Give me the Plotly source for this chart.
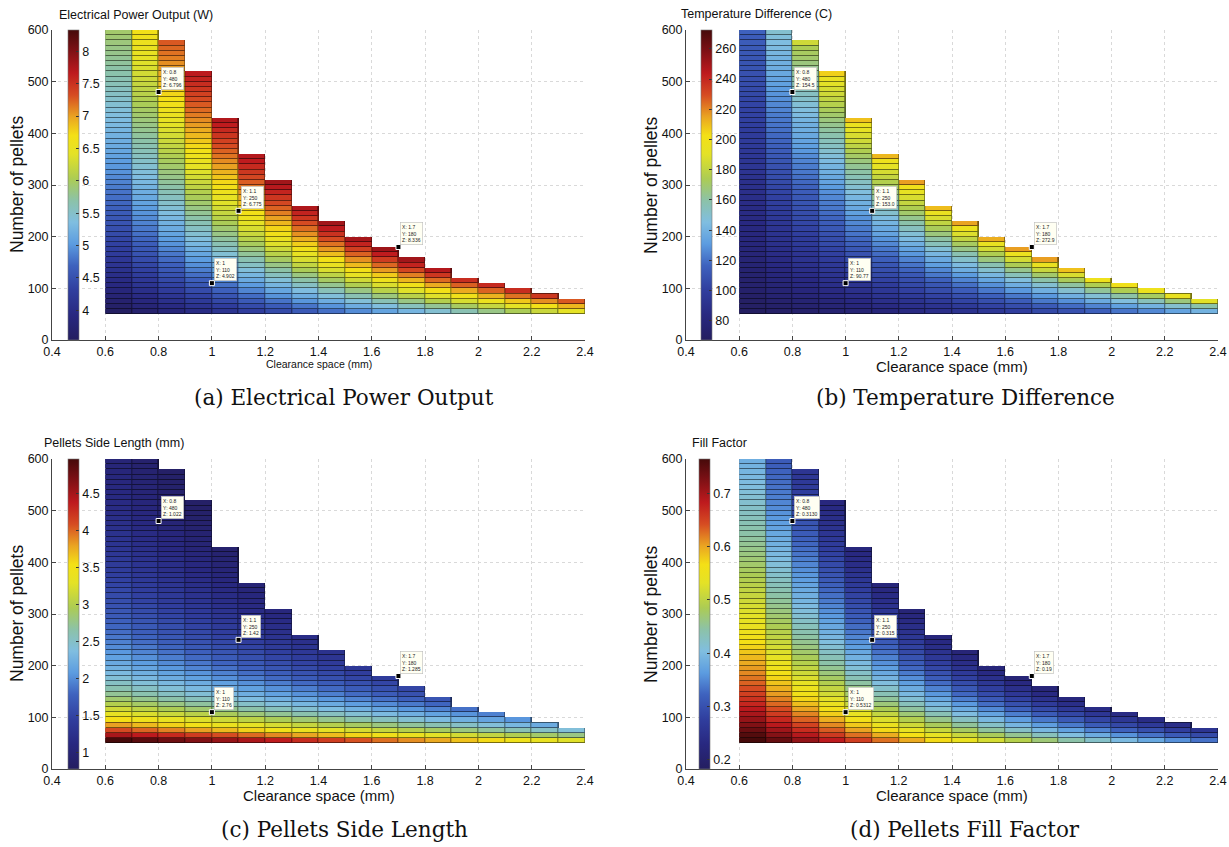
import plotly.graph_objects as go

# ---------------- data ----------------
clearance_edges = [0.6, 0.7, 0.8, 0.9, 1.0, 1.1, 1.2, 1.3, 1.4, 1.5, 1.6, 1.7, 1.8, 1.9, 2.0, 2.1, 2.2, 2.3, 2.4]
pellet_edges = [50, 60, 70, 80, 90, 100, 110, 120, 130, 140, 150, 160, 170, 180, 190, 200, 210, 220, 230, 240,
                250, 260, 270, 280, 290, 300, 310, 320, 330, 340, 350, 360, 370, 380, 390, 400, 410, 420, 430, 440,
                450, 460, 470, 480, 490, 500, 510, 520, 530, 540, 550, 560, 570, 580, 590, 600]

# each inner list = one clearance column, values from N=50 upward (10 pellets per row)
power_w = [
    [3.56,3.64,3.71,3.78,3.85,3.92,3.97,4.03,4.09,4.14,4.19,4.25,4.30,4.34,4.39,4.44,4.49,4.54,4.57,4.62,4.67,4.71,4.76,4.79,4.84,4.88,4.92,4.97,5.00,5.03,5.08,5.12,5.16,5.19,5.23,5.27,5.31,5.34,5.38,5.41,5.45,5.49,5.53,5.56,5.60,5.63,5.67,5.70,5.74,5.77,5.81,5.83,5.87,5.91,5.94],
    [3.70,3.80,3.89,3.96,4.04,4.13,4.19,4.27,4.33,4.39,4.46,4.53,4.58,4.64,4.71,4.77,4.82,4.88,4.93,4.98,5.03,5.09,5.15,5.19,5.24,5.30,5.35,5.40,5.45,5.50,5.55,5.60,5.64,5.69,5.74,5.79,5.83,5.88,5.93,5.97,6.02,6.06,6.11,6.15,6.20,6.25,6.29,6.34,6.38,6.43,6.48,6.51,6.55,6.61,6.66],
    [3.85,3.95,4.06,4.15,4.25,4.34,4.42,4.51,4.58,4.66,4.74,4.81,4.89,4.97,5.03,5.10,5.17,5.23,5.30,5.37,5.43,5.49,5.56,5.62,5.69,5.75,5.82,5.87,5.94,5.99,6.05,6.12,6.18,6.24,6.30,6.35,6.41,6.47,6.53,6.58,6.64,6.70,6.75,6.81,6.87,6.92,6.97,7.02,7.07,7.13,7.18,7.22,7.28],
    [3.99,4.12,4.23,4.34,4.45,4.56,4.66,4.76,4.85,4.95,5.03,5.12,5.20,5.29,5.38,5.45,5.54,5.62,5.69,5.77,5.84,5.93,6.01,6.08,6.16,6.24,6.30,6.38,6.45,6.52,6.60,6.67,6.74,6.82,6.89,6.95,7.02,7.08,7.14,7.21,7.27,7.34,7.40,7.47,7.53,7.60,7.67],
    [4.13,4.28,4.41,4.55,4.67,4.78,4.90,5.00,5.12,5.22,5.33,5.43,5.54,5.63,5.73,5.83,5.92,6.02,6.11,6.20,6.29,6.39,6.47,6.57,6.66,6.74,6.83,6.92,7.00,7.08,7.17,7.24,7.33,7.40,7.48,7.56,7.65,7.73],
    [4.29,4.45,4.60,4.75,4.89,5.02,5.16,5.28,5.40,5.53,5.64,5.76,5.88,6.00,6.11,6.23,6.33,6.44,6.55,6.67,6.76,6.87,6.97,7.07,7.17,7.26,7.36,7.46,7.55,7.65,7.71],
    [4.44,4.62,4.79,4.97,5.12,5.27,5.41,5.56,5.70,5.83,5.98,6.12,6.25,6.38,6.51,6.64,6.76,6.90,7.00,7.13,7.24,7.36,7.47,7.59,7.70,7.82],
    [4.60,4.80,4.99,5.18,5.35,5.53,5.69,5.85,6.02,6.18,6.33,6.48,6.63,6.79,6.93,7.06,7.20,7.33,7.47,7.60,7.74],
    [4.77,4.98,5.19,5.40,5.60,5.79,5.97,6.15,6.34,6.51,6.69,6.87,7.03,7.18,7.34,7.50,7.66,7.82],
    [4.93,5.18,5.41,5.63,5.84,6.06,6.27,6.47,6.67,6.88,7.06,7.24,7.42,7.60,7.79],
    [5.10,5.37,5.62,5.87,6.12,6.35,6.57,6.80,7.02,7.22,7.43,7.65,7.84],
    [5.27,5.57,5.84,6.12,6.39,6.65,6.90,7.13,7.37,7.60,7.82],
    [5.45,5.77,6.08,6.38,6.67,6.95,7.21,7.47,7.72],
    [5.63,5.98,6.32,6.63,6.96,7.25,7.53],
    [5.83,6.20,6.56,6.92,7.24,7.56],
    [6.02,6.43,6.82,7.18,7.53],
    [6.23,6.66,7.07,7.46],
    [6.43,6.90,7.28],
]

temp_diff_c = [
    [68,70,70,71,73,74,74,75,76,77,78,79,80,81,82,82,83,84,85,86,86,87,88,89,90,90,91,93,94,94,95,96,97,98,98,99,100,101,102,102,103,104,105,106,107,108,109,110,110,111,112,113,114,114,116],
    [71,72,74,76,77,78,80,81,82,84,85,87,88,90,91,92,93,94,96,97,99,100,101,103,104,106,107,108,109,111,112,114,115,117,118,120,121,122,123,125,126,128,129,131,133,134,136,138,139,140,142,144,145,147,150],
    [73,75,77,79,81,83,84,86,88,90,92,93,95,97,98,100,102,104,106,107,109,110,112,114,116,118,120,122,123,125,127,130,132,134,136,138,139,141,144,146,148,151,153,155,157,160,162,164,167,170,172,174,184],
    [76,78,80,83,85,88,90,92,94,96,98,101,103,106,107,109,112,114,117,119,122,123,126,128,131,134,136,139,141,144,147,150,153,155,158,161,164,167,170,173,177,180,184,186,190,194,206],
    [78,81,84,87,90,92,95,98,101,104,107,109,112,115,118,121,123,126,129,133,136,139,142,146,149,153,156,160,163,167,171,175,179,184,187,192,196,209],
    [81,85,89,92,95,98,102,105,108,111,115,119,122,126,129,134,137,141,145,150,153,157,162,167,171,176,181,186,191,197,211],
    [85,89,92,97,101,105,108,112,117,121,125,130,134,139,144,148,154,159,164,170,175,181,187,193,200,216],
    [89,92,97,102,107,111,116,122,126,132,137,142,148,155,160,167,173,180,187,194,210],
    [92,97,103,108,114,120,125,131,138,144,151,157,165,172,180,188,197,215],
    [96,102,108,115,122,128,135,142,150,157,167,175,185,194,213],
    [100,107,114,122,130,138,146,155,164,174,185,196,216],
    [105,113,122,130,139,149,159,170,182,194,216],
    [109,119,128,139,150,161,173,187,209],
    [115,125,137,148,162,175,198],
    [121,133,146,160,175,200],
    [126,140,155,172,198],
    [134,150,167,194],
    [140,159,190],
]

side_length_mm = [
    [4.97,4.49,4.11,3.81,3.55,3.34,3.16,3.00,2.86,2.73,2.62,2.52,2.42,2.34,2.26,2.19,2.12,2.06,2.00,1.94,1.89,1.84,1.80,1.76,1.71,1.68,1.64,1.60,1.57,1.54,1.51,1.48,1.45,1.42,1.40,1.37,1.35,1.32,1.30,1.28,1.26,1.24,1.22,1.20,1.18,1.16,1.15,1.13,1.11,1.10,1.08,1.07,1.05,1.04,1.02],
    [4.87,4.39,4.01,3.71,3.45,3.24,3.06,2.90,2.76,2.63,2.52,2.42,2.32,2.24,2.16,2.09,2.02,1.96,1.90,1.84,1.79,1.74,1.70,1.66,1.61,1.58,1.54,1.50,1.47,1.44,1.41,1.38,1.35,1.32,1.30,1.27,1.25,1.22,1.20,1.18,1.16,1.14,1.12,1.10,1.08,1.06,1.05,1.03,1.01,1.00,0.98,0.97,0.95,0.94,0.92],
    [4.77,4.29,3.91,3.61,3.35,3.14,2.96,2.80,2.66,2.53,2.42,2.32,2.22,2.14,2.06,1.99,1.92,1.86,1.80,1.74,1.69,1.64,1.60,1.56,1.51,1.48,1.44,1.40,1.37,1.34,1.31,1.28,1.25,1.22,1.20,1.17,1.15,1.12,1.10,1.08,1.06,1.04,1.02,1.00,0.98,0.96,0.95,0.93,0.91,0.90,0.88,0.87,0.85],
    [4.67,4.19,3.81,3.51,3.25,3.04,2.86,2.70,2.56,2.43,2.32,2.22,2.12,2.04,1.96,1.89,1.82,1.76,1.70,1.64,1.59,1.54,1.50,1.46,1.41,1.38,1.34,1.30,1.27,1.24,1.21,1.18,1.15,1.12,1.10,1.07,1.05,1.02,1.00,0.98,0.96,0.94,0.92,0.90,0.88,0.86,0.85],
    [4.57,4.09,3.71,3.41,3.15,2.94,2.76,2.60,2.46,2.33,2.22,2.12,2.02,1.94,1.86,1.79,1.72,1.66,1.60,1.54,1.49,1.44,1.40,1.36,1.31,1.28,1.24,1.20,1.17,1.14,1.11,1.08,1.05,1.02,1.00,0.97,0.95,0.92],
    [4.47,3.99,3.61,3.31,3.05,2.84,2.66,2.50,2.36,2.23,2.12,2.02,1.92,1.84,1.76,1.69,1.62,1.56,1.50,1.44,1.39,1.34,1.30,1.26,1.21,1.18,1.14,1.10,1.07,1.04,1.01],
    [4.37,3.89,3.51,3.21,2.95,2.74,2.56,2.40,2.26,2.13,2.02,1.92,1.82,1.74,1.66,1.59,1.52,1.46,1.40,1.34,1.29,1.24,1.20,1.16,1.11,1.08],
    [4.27,3.79,3.41,3.11,2.85,2.64,2.46,2.30,2.16,2.03,1.92,1.82,1.72,1.64,1.56,1.49,1.42,1.36,1.30,1.24,1.19],
    [4.17,3.69,3.31,3.01,2.75,2.54,2.36,2.20,2.06,1.93,1.82,1.72,1.62,1.54,1.46,1.39,1.32,1.26],
    [4.07,3.59,3.21,2.91,2.65,2.44,2.26,2.10,1.96,1.83,1.72,1.62,1.52,1.44,1.36],
    [3.97,3.49,3.11,2.81,2.55,2.34,2.16,2.00,1.86,1.73,1.62,1.52,1.42],
    [3.87,3.39,3.01,2.71,2.45,2.24,2.06,1.90,1.76,1.63,1.52],
    [3.77,3.29,2.91,2.61,2.35,2.14,1.96,1.80,1.66],
    [3.67,3.19,2.81,2.51,2.25,2.04,1.86],
    [3.57,3.09,2.71,2.41,2.15,1.94],
    [3.47,2.99,2.61,2.31,2.05],
    [3.37,2.89,2.51,2.21],
    [3.27,2.79,2.41],
]

fill_factor = [
    [.772,.755,.739,.724,.710,.697,.685,.673,.662,.652,.642,.632,.623,.614,.605,.597,.589,.581,.574,.566,.559,.552,.545,.539,.532,.526,.520,.513,.507,.502,.496,.490,.485,.480,.474,.469,.464,.459,.454,.449,.444,.440,.435,.431,.426,.422,.417,.413,.409,.405,.401,.397,.393,.389,.385],
    [.742,.721,.703,.686,.671,.656,.642,.629,.617,.605,.594,.583,.573,.563,.553,.544,.535,.526,.518,.509,.502,.494,.486,.479,.472,.465,.458,.451,.445,.438,.432,.426,.420,.414,.409,.403,.398,.392,.387,.382,.377,.372,.367,.362,.357,.352,.348,.343,.339,.334,.330,.326,.322,.317,.313],
    [.711,.689,.668,.650,.632,.616,.601,.586,.573,.560,.548,.536,.524,.513,.503,.493,.483,.474,.465,.456,.447,.439,.431,.423,.415,.408,.400,.393,.386,.380,.373,.366,.360,.354,.348,.342,.336,.331,.325,.320,.314,.309,.304,.299,.294,.289,.284,.280,.275,.270,.266,.262,.257],
    [.682,.657,.635,.614,.595,.577,.561,.545,.530,.516,.503,.490,.478,.466,.455,.444,.434,.424,.414,.405,.396,.387,.378,.370,.362,.354,.347,.339,.332,.325,.318,.311,.305,.298,.292,.286,.280,.274,.269,.263,.258,.252,.247,.242,.237,.232,.227],
    [.653,.626,.602,.580,.559,.540,.522,.506,.490,.475,.461,.447,.434,.422,.410,.399,.388,.377,.367,.357,.348,.338,.330,.321,.313,.305,.297,.289,.282,.274,.267,.261,.254,.247,.241,.235,.229,.223],
    [.625,.596,.570,.546,.524,.504,.485,.467,.451,.435,.420,.406,.392,.379,.367,.355,.344,.333,.322,.312,.303,.293,.284,.275,.267,.259,.251,.243,.236,.228,.221],
    [.597,.566,.539,.513,.490,.469,.449,.431,.413,.397,.381,.366,.353,.339,.326,.314,.303,.291,.281,.270,.261,.251,.242,.233,.225,.216],
    [.570,.538,.508,.482,.458,.435,.415,.395,.377,.360,.344,.329,.315,.301,.288,.276,.264,.253,.242,.232,.222],
    [.544,.509,.479,.451,.426,.403,.382,.362,.343,.326,.309,.294,.279,.266,.252,.240,.228,.217],
    [.518,.482,.450,.422,.396,.372,.350,.330,.311,.293,.276,.261,.246,.232,.219],
    [.493,.456,.423,.393,.366,.342,.320,.299,.280,.262,.245,.229,.215],
    [.468,.430,.396,.366,.338,.313,.291,.270,.250,.232,.216],
    [.444,.405,.370,.339,.311,.286,.263,.242,.223],
    [.421,.381,.345,.314,.285,.260,.237],
    [.399,.357,.321,.289,.261,.235],
    [.377,.334,.298,.266,.237],
    [.355,.312,.275,.243],
    [.334,.291,.254],
]

tip_x = [0.8, 1.1, 1.7, 1.0]
tip_y = [480, 250, 180, 110]
tip_x_text = ["0.8", "1.1", "1.7", "1"]
tip_z_power = ["6.796", "6.775", "8.336", "4.902"]
tip_z_temp = ["154.5", "153.0", "272.9", "90.77"]
tip_z_side = ["1.022", "1.42", "1.285", "2.76"]
tip_z_fill = ["0.3130", "0.315", "0.19", "0.5312"]

power_ticks = [4, 4.5, 5, 5.5, 6, 6.5, 7, 7.5, 8]
temp_ticks = [80, 100, 120, 140, 160, 180, 200, 220, 240, 260]
side_ticks = [1, 1.5, 2, 2.5, 3, 3.5, 4, 4.5]
fill_ticks = [0.2, 0.3, 0.4, 0.5, 0.6, 0.7]

# ---------------- styling ----------------
W, H = 1229, 847
stops = [
    (0.00, (36, 30, 96)), (0.08, (40, 40, 128)), (0.16, (48, 62, 158)), (0.24, (62, 98, 190)),
    (0.31, (92, 156, 224)), (0.38, (128, 190, 224)), (0.45, (140, 194, 168)), (0.52, (172, 204, 84)),
    (0.60, (228, 226, 38)), (0.66, (244, 224, 22)), (0.72, (234, 164, 34)), (0.79, (214, 76, 34)),
    (0.86, (190, 26, 30)), (0.94, (120, 16, 20)), (1.00, (70, 10, 10)),
]
cscale = [[p, "rgb(%d,%d,%d)" % c] for p, c in stops]
cscale_dark = [[p, "rgb(%d,%d,%d)" % tuple(int(v * 0.5) for v in c)] for p, c in stops]

SANS = "Liberation Sans, Arial, sans-serif"
SERIF = "DejaVu Serif, serif"


def px_x(px):
    return px / W


def px_y(py):
    return 1 - py / H


panels = [
    dict(vals=power_w, zr=(3.54, 8.33), ticks=power_ticks, tips=tip_z_power,
         xd=(52, 585), yd=(30, 340), cbx=68, title="Electrical Power Output (W)", tx=57, ty=15,
         xlab_size=10.5, xlab_dy=24, cap="(a) Electrical Power Output", cap_dy=57, cap_x=344),
    dict(vals=temp_diff_c, zr=(67.3, 272.5), ticks=temp_ticks, tips=tip_z_temp,
         xd=(686, 1218), yd=(30, 340), cbx=701, title="Temperature Difference (C)", tx=679, ty=14,
         xlab_size=15, xlab_dy=26, cap="(b) Temperature Difference", cap_dy=57, cap_x=965),
    dict(vals=side_length_mm, zr=(0.78, 4.97), ticks=side_ticks, tips=tip_z_side,
         xd=(52, 585), yd=(459, 769), cbx=68, title="Pellets Side Length (mm)", tx=42, ty=443,
         xlab_size=15, xlab_dy=26, cap="(c) Pellets Side Length", cap_dy=60, cap_x=344),
    dict(vals=fill_factor, zr=(0.183, 0.764), ticks=fill_ticks, tips=tip_z_fill,
         xd=(686, 1218), yd=(459, 769), cbx=699, title="Fill Factor", tx=690, ty=443,
         xlab_size=15, xlab_dy=26, cap="(d) Pellets Fill Factor", cap_dy=60, cap_x=965),
]

fig = go.Figure()
annotations = []
layout_axes = {}
for i, p in enumerate(panels):
    k = "" if i == 0 else str(i + 1)
    xa, ya = "x" + k, "y" + k
    nrows = len(pellet_edges) - 1
    z = [[col[r] if r < len(col) else None for col in p["vals"]] for r in range(nrows)]
    fig.add_trace(go.Heatmap(x=clearance_edges, y=pellet_edges, z=z, colorscale=cscale_dark,
                             zmin=p["zr"][0], zmax=p["zr"][1], showscale=False, hoverinfo="skip",
                             xaxis=xa, yaxis=ya))
    fig.add_trace(go.Heatmap(
        x=clearance_edges, y=pellet_edges, z=z, colorscale=cscale, zmin=p["zr"][0], zmax=p["zr"][1],
        xgap=1, ygap=1, xaxis=xa, yaxis=ya,
        colorbar=dict(x=px_x(p["cbx"]), xanchor="left", xref="paper", yref="paper",
                      y=(px_y(p["yd"][0]) + px_y(p["yd"][1])) / 2, yanchor="middle",
                      len=(p["yd"][1] - p["yd"][0]) / H, lenmode="fraction",
                      thickness=11, thicknessmode="pixels", outlinewidth=0.6, outlinecolor="#777",
                      tickvals=p["ticks"], ticks="inside", ticklen=3, tickcolor="#333",
                      tickfont=dict(family=SANS, size=12.5, color="#111"),
                      xpad=0, ypad=0)))
    fig.add_trace(go.Scatter(x=tip_x, y=tip_y, mode="markers", xaxis=xa, yaxis=ya, showlegend=False,
                             hoverinfo="skip",
                             marker=dict(symbol="square", size=5, color="black",
                                         line=dict(color="white", width=1))))
    for tx_, ty_, xt, zt in zip(tip_x, tip_y, tip_x_text, p["tips"]):
        annotations.append(dict(x=tx_, y=ty_, xref=xa, yref=ya, showarrow=False,
                                text="X: %s<br>Y: %d<br>Z: %s" % (xt, ty_, zt),
                                xanchor="left", yanchor="bottom", xshift=2, yshift=2, align="left",
                                font=dict(family=SANS, size=5, color="#222"),
                                bgcolor="#fffff2", bordercolor="#bbbbbb", borderwidth=0.6, borderpad=1.5))
    axis_common = dict(showline=True, linecolor="#444", linewidth=1, ticks="inside", ticklen=4,
                       tickcolor="#444", showgrid=True, gridcolor="#d9d9d9", griddash="dot", gridwidth=1,
                       zeroline=False, tickfont=dict(family=SANS, size=12.5, color="#111"))
    layout_axes["xaxis" + k] = dict(axis_common, domain=[px_x(p["xd"][0]), px_x(p["xd"][1])], range=[0.4, 2.4],
                                    tickvals=[0.4, 0.6, 0.8, 1.0, 1.2, 1.4, 1.6, 1.8, 2.0, 2.2, 2.4],
                                    ticktext=["0.4", "0.6", "0.8", "1", "1.2", "1.4", "1.6", "1.8", "2", "2.2", "2.4"],
                                    anchor=ya)
    layout_axes["yaxis" + k] = dict(axis_common, domain=[px_y(p["yd"][1]), px_y(p["yd"][0])], range=[0, 600],
                                    tickvals=[0, 100, 200, 300, 400, 500, 600], anchor=xa)
    annotations.append(dict(x=px_x(p["tx"]), y=px_y(p["ty"]), xref="paper", yref="paper", showarrow=False,
                            text=p["title"], xanchor="left", yanchor="middle",
                            font=dict(family=SANS, size=12.5, color="#111")))
    xmid = (p["xd"][0] + p["xd"][1]) / 2
    annotations.append(dict(x=px_x(xmid), y=px_y(p["yd"][1] + p["xlab_dy"]), xref="paper", yref="paper",
                            showarrow=False, text="Clearance space (mm)", xanchor="center", yanchor="middle",
                            font=dict(family=SANS, size=p["xlab_size"], color="#111")))
    annotations.append(dict(x=px_x(p["xd"][0] - 35), y=px_y((p["yd"][0] + p["yd"][1]) / 2), xref="paper",
                            yref="paper", showarrow=False, text="Number of pellets", textangle=-90,
                            xanchor="center", yanchor="middle",
                            font=dict(family=SANS, size=17.5, color="#111")))
    annotations.append(dict(x=px_x(p["cap_x"]), y=px_y(p["yd"][1] + p["cap_dy"]), xref="paper", yref="paper",
                            showarrow=False, text=p["cap"], xanchor="center", yanchor="middle",
                            font=dict(family=SERIF, size=21.5, color="#111")))

fig.update_layout(width=W, height=H, margin=dict(l=0, r=0, t=0, b=0, autoexpand=False), paper_bgcolor="white",
                  plot_bgcolor="white", showlegend=False, annotations=annotations, **layout_axes)
fig.write_html("out.html")
